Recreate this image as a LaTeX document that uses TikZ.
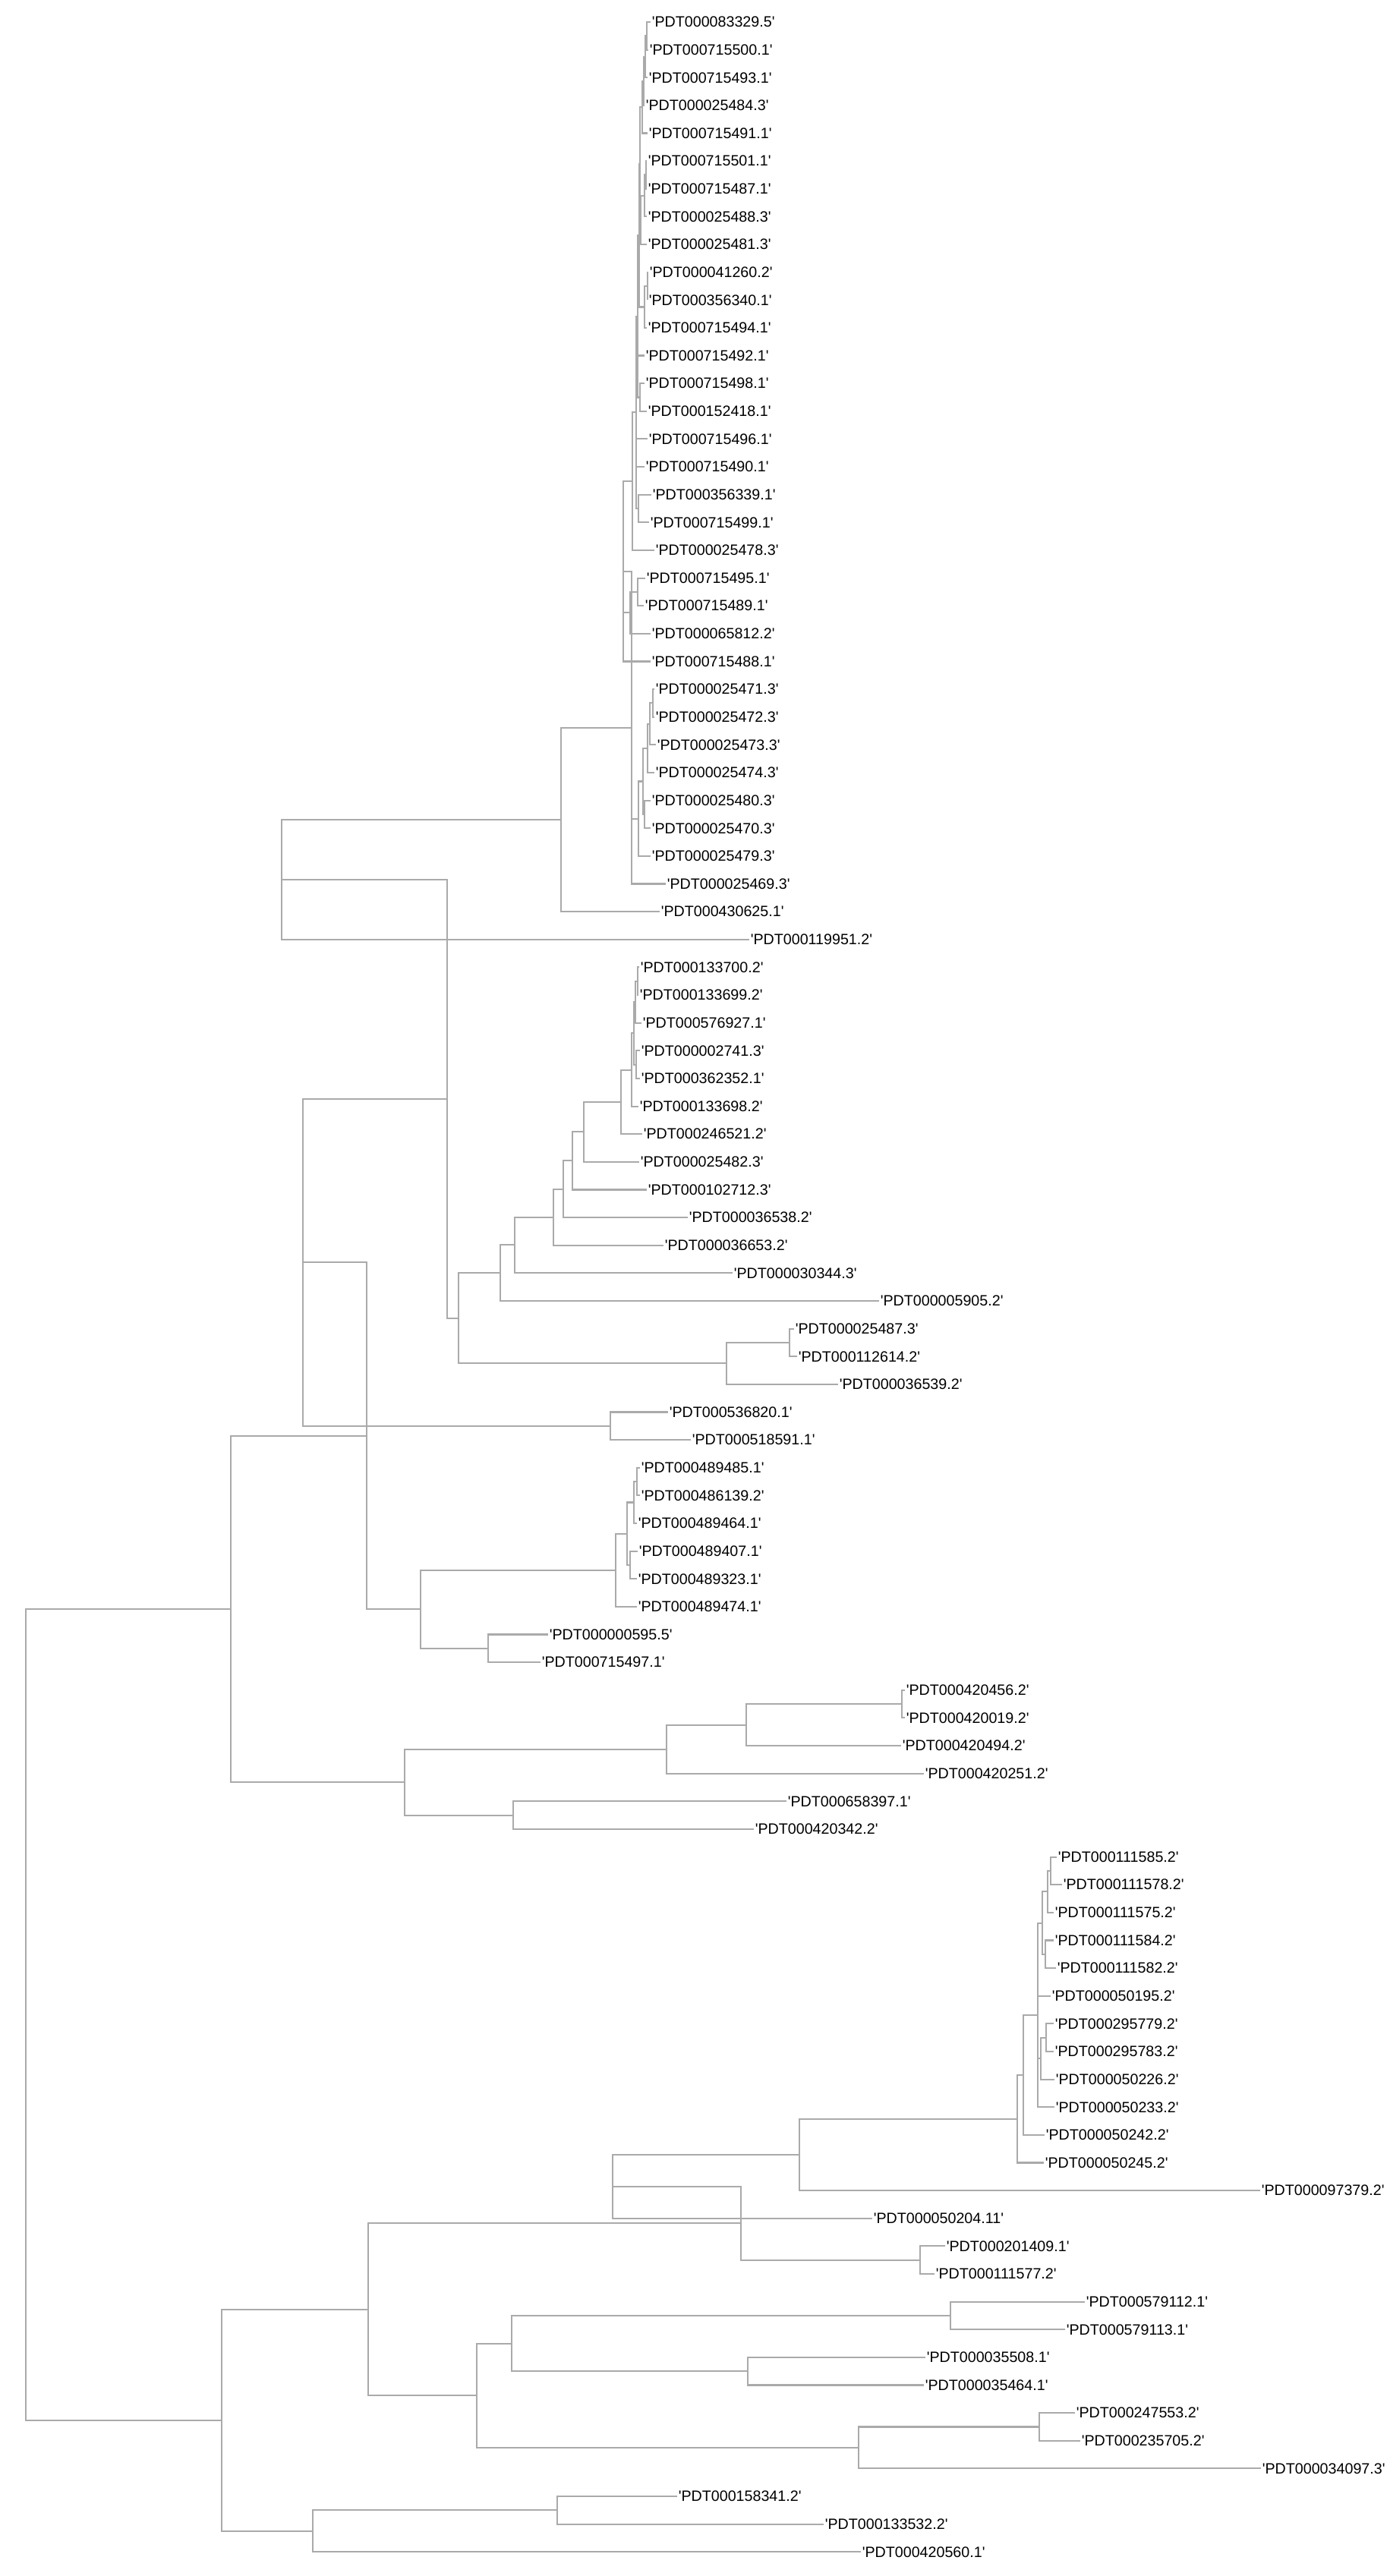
\documentclass[tikz,border=0pt]{standalone}
\usepackage{fontspec}
\newfontfamily\leaffont{Liberation Sans}
\definecolor{treegray}{RGB}{170,170,170}
\newcommand\lbl[1]{\textquotesingle#1\textquotesingle}
\tikzset{
  leaf/.style={anchor=west,inner xsep=0.3pt,inner ysep=0pt,font=\leaffont\fontsize{5.6}{6.7}\selectfont},
  branch/.style={draw=treegray,line width=0.6pt}
}
\begin{document}
\begin{tikzpicture}[x=0.1mm,y=-3.663mm]
\useasboundingbox (0,0.2083) rectangle (1830,92.866);
% leaves, one per row
\foreach \tx/\nm [count=\i] in {857/PDT000083329.5,854/PDT000715500.1,853/PDT000715493.1,849/PDT000025484.3,
  853/PDT000715491.1,852/PDT000715501.1,852/PDT000715487.1,852/PDT000025488.3,852/PDT000025481.3,
  854/PDT000041260.2,853/PDT000356340.1,852/PDT000715494.1,849/PDT000715492.1,849/PDT000715498.1,
  852/PDT000152418.1,853/PDT000715496.1,849/PDT000715490.1,858/PDT000356339.1,855/PDT000715499.1,
  862/PDT000025478.3,850/PDT000715495.1,848/PDT000715489.1,857/PDT000065812.2,857/PDT000715488.1,
  862/PDT000025471.3,862/PDT000025472.3,864/PDT000025473.3,862/PDT000025474.3,857/PDT000025480.3,
  857/PDT000025470.3,857/PDT000025479.3,877/PDT000025469.3,869/PDT000430625.1,987/PDT000119951.2,
  842/PDT000133700.2,841/PDT000133699.2,845/PDT000576927.1,843/PDT000002741.3,843/PDT000362352.1,
  841/PDT000133698.2,846/PDT000246521.2,842/PDT000025482.3,852/PDT000102712.3,906/PDT000036538.2,
  874/PDT000036653.2,965/PDT000030344.3,1158/PDT000005905.2,1046/PDT000025487.3,1050/PDT000112614.2,
  1104/PDT000036539.2,880/PDT000536820.1,910/PDT000518591.1,843/PDT000489485.1,843/PDT000486139.2,
  839/PDT000489464.1,840/PDT000489407.1,839/PDT000489323.1,839/PDT000489474.1,722/PDT000000595.5,
  712/PDT000715497.1,1192/PDT000420456.2,1192/PDT000420019.2,1187/PDT000420494.2,1217/PDT000420251.2,
  1036/PDT000658397.1,993/PDT000420342.2,1392/PDT000111585.2,1399/PDT000111578.2,1388/PDT000111575.2,
  1388/PDT000111584.2,1391/PDT000111582.2,1384/PDT000050195.2,1388/PDT000295779.2,1388/PDT000295783.2,
  1389/PDT000050226.2,1389/PDT000050233.2,1376/PDT000050242.2,1375/PDT000050245.2,1660/PDT000097379.2,
  1149/PDT000050204.11,1245/PDT000201409.1,1231/PDT000111577.2,1429/PDT000579112.1,1403/PDT000579113.1,
  1219/PDT000035508.1,1217/PDT000035464.1,1416/PDT000247553.2,1423/PDT000235705.2,1661/PDT000034097.3,
  892/PDT000158341.2,1085/PDT000133532.2,1134/PDT000420560.1}
  \node[leaf] (l\i) at (\tx,\i) {\lbl{\nm}};
% inner nodes
\coordinate (a1) at (852,1.5);   \coordinate (a2) at (850,2.25);  \coordinate (a3) at (848,3.125);
\coordinate (a4) at (846,4.063); \coordinate (b1) at (851,6.5);   \coordinate (b2) at (849,7.25);
\coordinate (b3) at (844,8.125); \coordinate (a5) at (843,6.094); \coordinate (c1) at (853,10.5);
\coordinate (c2) at (849,11.25); \coordinate (a6) at (842,8.672); \coordinate (d1) at (843,14.5);
\coordinate (a7) at (840,11.586);\coordinate (e1) at (841,18.5);  \coordinate (e2) at (838,15.043);
\coordinate (u) at (833,17.52);  \coordinate (b4) at (840,21.5);  \coordinate (v) at (830,22.25);
\coordinate (w) at (821,20.76);  \coordinate (g1) at (860,25.5);  \coordinate (g2) at (856,26.25);
\coordinate (g3) at (853,27.125);\coordinate (g4) at (849,29.5);  \coordinate (g5) at (847,28.313);
\coordinate (q) at (841,29.656); \coordinate (f1) at (832,26.38); \coordinate (f) at (739,29.69);
\coordinate (e) at (371,31.845);
\coordinate (k1) at (840,35.5);  \coordinate (k2) at (837,36.25); \coordinate (k3) at (838,38.5);
\coordinate (k4) at (835,37.375);\coordinate (h6) at (832,38.69); \coordinate (h5) at (818,39.84);
\coordinate (h4) at (769,40.92); \coordinate (h3) at (754,41.96); \coordinate (h2) at (742,42.98);
\coordinate (h1) at (729,43.99); \coordinate (h) at (678,44.99);  \coordinate (hd) at (659,46.0);
\coordinate (j1) at (1040,48.5); \coordinate (jd) at (957,49.25); \coordinate (dd) at (604,47.62);
\coordinate (c) at (589,39.73);  \coordinate (s1) at (804,51.5);  \coordinate (bb) at (399,45.62);
\coordinate (m1) at (839,53.5);  \coordinate (m2) at (835,54.25); \coordinate (m3) at (830,56.5);
\coordinate (m4) at (826,55.375);\coordinate (mp) at (811,56.69); \coordinate (p2) at (643,59.5);
\coordinate (gg) at (554,58.09); \coordinate (aa1) at (483,51.86);
\coordinate (r6) at (1188,61.5); \coordinate (r5) at (983,62.25); \coordinate (r3) at (878,63.125);
\coordinate (r4) at (676,65.5);  \coordinate (r2) at (533,64.31); \coordinate (aa) at (304,58.09);
\coordinate (n1) at (1384,67.5); \coordinate (n2) at (1380,68.25);\coordinate (n3) at (1377,70.5);
\coordinate (y1) at (1373,69.375);\coordinate (n4) at (1378,73.5);\coordinate (y2) at (1371,74.25);
\coordinate (z11) at (1367,72.69);\coordinate (z10) at (1348,74.84);\coordinate (z9) at (1340,76.42);
\coordinate (z7) at (1053,77.71);\coordinate (z6) at (807,78.86); \coordinate (z8) at (1212,81.5);
\coordinate (z5) at (976,80.18); \coordinate (z16) at (1252,83.5);\coordinate (z17) at (985,85.5);
\coordinate (z13) at (674,84.5); \coordinate (z15) at (1369,87.5);\coordinate (z14) at (1131,88.25);
\coordinate (z12) at (628,86.375);\coordinate (z1) at (485,83.28);\coordinate (z3) at (734,90.5);
\coordinate (z2) at (412,91.25); \coordinate (z) at (292,87.26);  \coordinate (root) at (34,72.68);
% branches, parent/child
\foreach \p/\c in {a1/l1,a1/l2,a2/a1,a2/l3,a3/a2,a3/l4,a4/a3,a4/l5,
  b1/l6,b1/l7,b2/b1,b2/l8,b3/b2,b3/l9,a5/a4,a5/b3,
  c1/l10,c1/l11,c2/c1,c2/l12,a6/a5,a6/c2,
  d1/l14,d1/l15,a7/a6,a7/l13,a7/d1,
  e1/l18,e1/l19,e2/a7,e2/l16,e2/l17,e2/e1,
  u/e2,u/l20,b4/l21,b4/l22,v/b4,v/l23,w/u,w/v,w/l24,
  g1/l25,g1/l26,g2/g1,g2/l27,g3/g2,g3/l28,g4/l29,g4/l30,g5/g3,g5/g4,q/g5,q/l31,
  f1/w,f1/q,f1/l32,f/f1,f/l33,e/f,e/l34,
  k1/l35,k1/l36,k2/k1,k2/l37,k3/l38,k3/l39,k4/k2,k4/k3,h6/k4,h6/l40,h5/h6,h5/l41,
  h4/h5,h4/l42,h3/h4,h3/l43,h2/h3,h2/l44,h1/h2,h1/l45,h/h1,h/l46,hd/h,hd/l47,
  j1/l48,j1/l49,jd/j1,jd/l50,dd/hd,dd/jd,c/e,c/dd,
  s1/l51,s1/l52,bb/c,bb/s1,
  m1/l53,m1/l54,m2/m1,m2/l55,m3/l56,m3/l57,m4/m2,m4/m3,mp/m4,mp/l58,
  p2/l59,p2/l60,gg/mp,gg/p2,aa1/bb,aa1/gg,
  r6/l61,r6/l62,r5/r6,r5/l63,r3/r5,r3/l64,r4/l65,r4/l66,r2/r3,r2/r4,aa/aa1,aa/r2,
  n1/l67,n1/l68,n2/n1,n2/l69,n3/l70,n3/l71,y1/n2,y1/n3,n4/l73,n4/l74,y2/n4,y2/l75,
  z11/y1,z11/l72,z11/y2,z11/l76,z10/z11,z10/l77,z9/z10,z9/l78,z7/z9,z7/l79,z6/z7,z6/l80,
  z8/l81,z8/l82,z5/z6,z5/z8,z16/l83,z16/l84,z17/l85,z17/l86,z13/z16,z13/z17,
  z15/l87,z15/l88,z14/z15,z14/l89,z12/z13,z12/z14,z1/z5,z1/z12,
  z3/l90,z3/l91,z2/z3,z2/l92,z/z1,z/z2,root/aa,root/z}
  \draw[branch] (\p) |- (\c);
\end{tikzpicture}
\end{document}
